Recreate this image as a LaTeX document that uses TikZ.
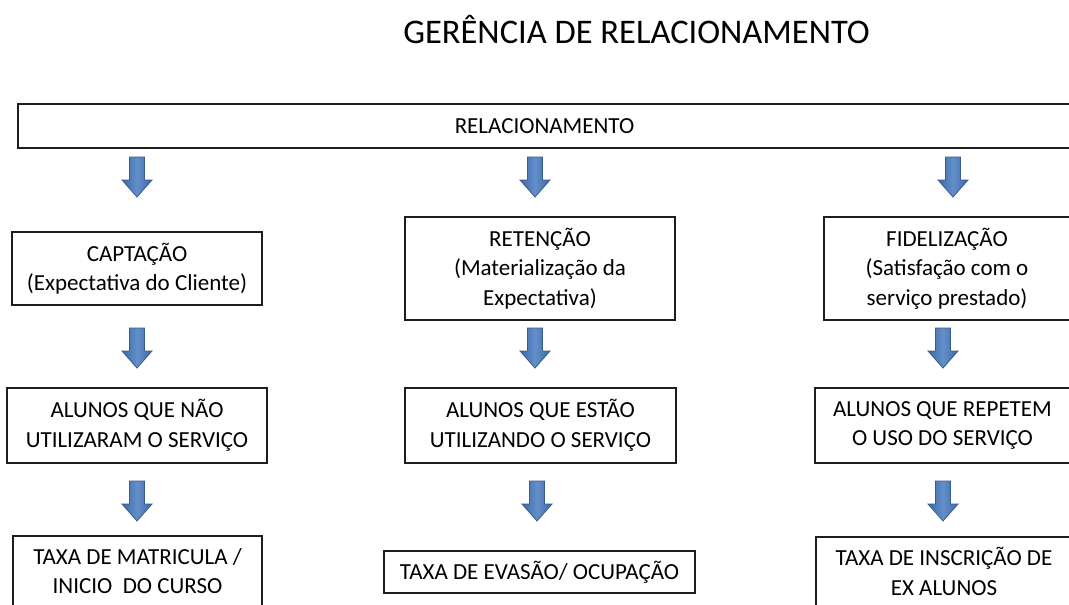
\documentclass[tikz,border=0pt]{standalone}
\usepackage{fontspec}
\setmainfont{Carlito}
\definecolor{arrdark}{RGB}{56,93,138}
\definecolor{arredge}{RGB}{62,104,165}
\definecolor{arrmid}{RGB}{98,143,203}
\definecolor{boxline}{RGB}{30,30,30}
\tikzset{
  box/.style={draw=boxline, line width=1.3pt, rectangle, align=center, inner sep=0pt,
    font=\fontsize{23}{29.5}\selectfont, text=black},
  titletext/.style={font=\fontsize{34.5}{40}\selectfont, text=black, inner sep=0pt},
  arrowfill/.style={draw=arrdark, line width=0.8pt, left color=arredge, right color=arredge, middle color=arrmid},
  blockarr/.pic={\path[arrowfill] (-7.5,0) -- (7.5,0) -- (7.5,23) -- (15,23) -- (0,40) -- (-15,23) -- (-7.5,23) -- cycle;}
}
\begin{document}
\begin{tikzpicture}[x=1pt,y=-1pt]
\useasboundingbox (0,0) rectangle (1069,605);
\clip (0,0) rectangle (1069,605);
\fill[white] (0,0) rectangle (1069,605);

\node[titletext, anchor=base] (title) at (636.5,43) {GERÊNCIA DE RELACIONAMENTO};

\node[box, minimum width=1053, minimum height=44] (rel) at (544.5,126) {RELACIONAMENTO};

\pic (a1) at (137,157) {blockarr};
\pic (a2) at (535,157) {blockarr};
\pic (a3) at (953,157) {blockarr};

\node[box, minimum width=250, minimum height=73] (cap) at (137,268.5) {CAPTAÇÃO\\(Expectativa do Cliente)};
\node[box, minimum width=270, minimum height=103] (ret) at (540,268.5) {RETENÇÃO\\(Materialização da\\Expectativa)};
\node[box, minimum width=246, minimum height=103] (fid) at (947,268.5) {FIDELIZAÇÃO\\(Satisfação com o\\serviço prestado)};

\pic (b1) at (137,328) {blockarr};
\pic (b2) at (535,328) {blockarr};
\pic (b3) at (943,328) {blockarr};

\node[box, minimum width=260, minimum height=75] (al1) at (137,425.5) {ALUNOS QUE NÃO\\UTILIZARAM O SERVIÇO};
\node[box, minimum width=271, minimum height=75] (al2) at (540.5,425.5) {ALUNOS QUE ESTÃO\\UTILIZANDO O SERVIÇO};
\node[box, minimum width=255, minimum height=75] (al3) at (942.5,425.5) {ALUNOS QUE REPETEM\\O USO DO SERVIÇO};

\pic (c1) at (137,481) {blockarr};
\pic (c2) at (537,481) {blockarr};
\pic (c3) at (943,481) {blockarr};

\node[box, minimum width=249, minimum height=70] (tx1) at (137.5,571) {TAXA DE MATRICULA /\\INICIO~ DO CURSO};
\node[box, minimum width=311, minimum height=42] (tx2) at (539.5,572) {TAXA DE EVASÃO/ OCUPAÇÃO};
\node[box, minimum width=256, minimum height=69] (tx3) at (944,571.5) {TAXA DE INSCRIÇÃO DE\\EX ALUNOS};
\end{tikzpicture}
\end{document}
